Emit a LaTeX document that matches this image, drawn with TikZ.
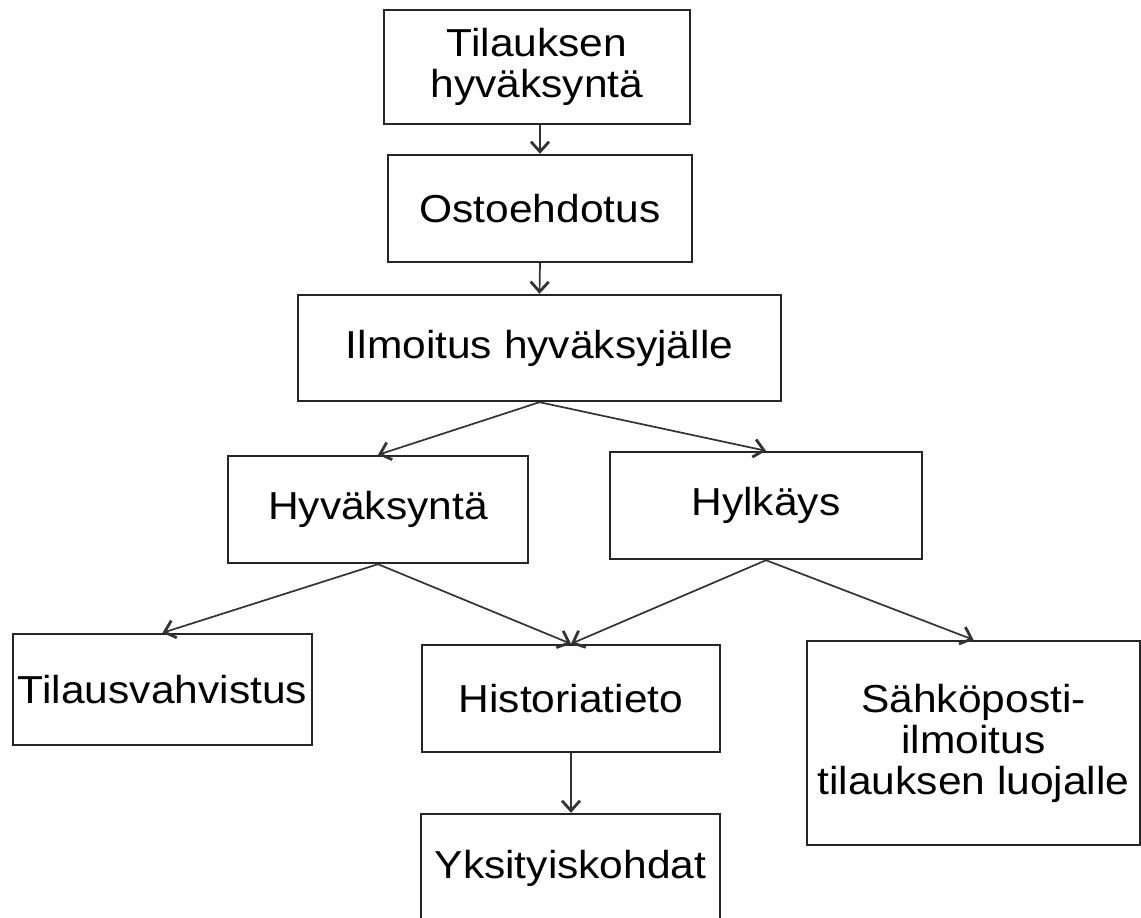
\documentclass[tikz,border=0pt]{standalone}
\usepackage{fontspec}
\setmainfont[FakeStretch=1.09]{Liberation Sans}
\usetikzlibrary{arrows.meta}
\begin{document}
\begin{tikzpicture}[x=0.5pt,y=-0.5pt,
  box/.style={draw=black!85, line width=1.2pt, fill=white, inner sep=0pt,
    align=center, font=\fontsize{19.5pt}{20.5pt}\selectfont},
  sz/.style 2 args={minimum width=#1*0.5pt, minimum height=#2*0.5pt},
  flow/.style={draw=black!80, line width=0.85pt,
    -{Straight Barb[length=5pt,width=9pt,line width=1.4pt]}}]
  % canvas
  \fill[white] (0,0) rectangle (1141,917);
  \useasboundingbox (0,0) rectangle (1141,917);
  \clip (0,0) rectangle (1141,917);

  % process steps
  \node[box, sz={306}{114}] (tilaus)   at (537,67)    {Tilauksen\\hyväksyntä};
  \node[box, sz={304}{107}] (osto)     at (540,208.5) {Ostoehdotus};
  \node[box, sz={483}{106}] (ilmoitus) at (539.5,348) {Ilmoitus hyväksyjälle};
  \node[box, sz={300}{107}] (hyv)      at (378,509.5) {Hyväksyntä};
  \node[box, sz={312}{107}] (hyl)      at (766,505.5) {Hylkäys};
  \node[box, sz={299}{111}] (vahv)     at (162.5,689.5) {Tilausvahvistus};
  \node[box, sz={298}{107}] (hist)     at (571,698.5) {Historiatieto};
  \node[box, sz={333}{204}] (sposti)   at (973.5,743) {Sähköposti-\\ilmoitus\\tilauksen luojalle};
  \node[box, sz={299}{108}] (yks)      at (570.5,868) {Yksityiskohdat};

  % connectors
  \draw[flow] (osto.north |- tilaus.south) -- (osto.north);
  \draw[flow] (osto.south)     -- (ilmoitus.north);
  \draw[flow] (ilmoitus.south) -- (hyv.north);
  \draw[flow] (ilmoitus.south) -- (hyl.north);
  \draw[flow] (hyv.south)      -- (vahv.north);
  \draw[flow] (hyv.south)      -- (hist.north);
  \draw[flow] (hyl.south)      -- (hist.north);
  \draw[flow] (hyl.south)      -- (sposti.north);
  \draw[flow] (hist.south)     -- (hist.south |- yks.north);
\end{tikzpicture}
\end{document}
